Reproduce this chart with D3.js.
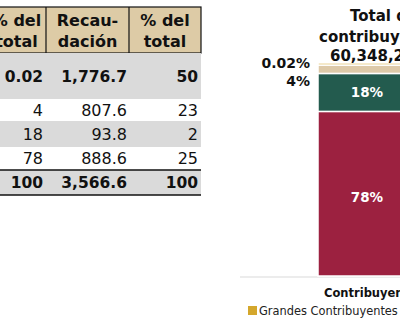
<!DOCTYPE html>
<html><head><meta charset="utf-8">
<script src="https://cdn.jsdelivr.net/npm/d3@7"></script>
<style>body{margin:0;background:#fff}svg{display:block}</style>
</head><body>
<svg id="c" width="400" height="323"></svg>
<script>
// ---- data ----
const tableHeaders = ["% del\ntotal", "Recau-\ndación", "% del\ntotal"];
const rowGroups = ["Grandes Contribuyentes", "Personas morales", "Personas físicas", "Asalariados"];
const pctContribuyentes = [0.02, 4, 18, 78];
const recaudacion = [1776.7, 807.6, 93.8, 888.6];
const pctRecaudacion = [50, 23, 2, 25];
const totals = [100, 3566.6, 100];

const stackCategory = ["Contribuyentes"];
const stackSeries = ["Grandes Contribuyentes", "Personas morales", "Personas físicas", "Asalariados"];
const stackValues = [0.02, 4, 18, 78];
const stackLabels = ["0.02%", "4%", "18%", "78%"];
const chartTitle = ["Total de", "contribuyentes", "60,348,246"];
const legendItems = ["Grandes Contribuyentes"];

// ---- styles ----
const FONT = "DejaVu Sans";
const colors = ["#D4A72C", "#DDC9A8", "#235B4E", "#9C2140"];
const svg = d3.select("#c");

// ---- table ----
const colEdges = [-15, 46, 129, 201];
const headerTop = 7, headerBottom = 53;
const rowEdges = [53, 99, 121, 147, 170, 195];
const fmt1 = d3.format(",.1f");
const fmtPct = v => (v < 1 ? d3.format(".2f")(v) : d3.format("d")(v));

const table = svg.append("g");
table.append("rect").attr("x", colEdges[0]).attr("y", headerTop)
  .attr("width", colEdges[3] - colEdges[0]).attr("height", headerBottom - headerTop)
  .attr("fill", "#DDCBA6").attr("stroke", "#111").attr("stroke-width", 1.2);
[1, 2].forEach(i => table.append("line").attr("x1", colEdges[i]).attr("x2", colEdges[i])
  .attr("y1", headerTop).attr("y2", headerBottom).attr("stroke", "#111").attr("stroke-width", 1.2));

tableHeaders.forEach((h, i) => {
  const cx = (colEdges[i] + colEdges[i + 1]) / 2 + (i === 0 ? 1 : 0);
  const t = table.append("text").attr("x", cx).attr("text-anchor", "middle")
    .attr("font-family", FONT).attr("font-weight", "bold").attr("font-size", 16).attr("fill", "#111");
  h.split("\n").forEach((ln, j) => t.append("tspan").attr("x", cx).attr("y", 26 + j * 20.5).text(ln));
});

const rows = rowGroups.map((g, i) => [pctContribuyentes[i], recaudacion[i], pctRecaudacion[i]]);
rows.push(totals);
const greyRows = [0, 2, 4];
rows.forEach((r, i) => {
  const y0 = rowEdges[i], y1 = rowEdges[i + 1];
  if (greyRows.includes(i)) table.append("rect").attr("x", colEdges[0]).attr("y", y0)
    .attr("width", colEdges[3] - colEdges[0]).attr("height", y1 - y0).attr("fill", "#DADADA");
  const bold = (i === 0 || i === 4);
  const txt = [fmtPct(r[0]), fmt1(r[1]), d3.format("d")(r[2])];
  const rights = [43, 127, 198];
  txt.forEach((s, k) => table.append("text").attr("x", rights[k]).attr("y", (y0 + y1) / 2)
    .attr("dy", "0.36em").attr("text-anchor", "end").attr("font-family", FONT)
    .attr("font-weight", bold ? "bold" : "normal").attr("font-size", bold ? 15.5 : 16)
    .attr("fill", "#111").text(s));
});
[rowEdges[4], rowEdges[5]].forEach(y => table.append("line").attr("x1", colEdges[0]).attr("x2", colEdges[3])
  .attr("y1", y).attr("y2", y).attr("stroke", "#111").attr("stroke-width", 1.3));

// ---- stacked bar ----
const x = d3.scaleBand().domain(stackCategory).range([318, 452]).paddingInner(0).paddingOuter(0);
const y = d3.scaleLinear().domain([0, 100]).range([276, 65]);
const order = d3.range(stackValues.length).reverse(); // bottom: 78%
let cum = 0;
const segs = order.map(i => { const s = { i, y0: cum, y1: cum + stackValues[i] }; cum += stackValues[i]; return s; });

const chart = svg.append("g");
chart.append("line").attr("x1", 240).attr("x2", 400).attr("y1", y(0) + 1).attr("y2", y(0) + 1)
  .attr("stroke", "#D9D9D9").attr("stroke-width", 1);

segs.forEach(s => {
  let top = y(s.y1), bot = y(s.y0);
  if (bot - top < 2) top = bot - 2;
  chart.append("rect").attr("x", x("Contribuyentes")).attr("width", x.bandwidth())
    .attr("y", top).attr("height", bot - top).attr("fill", colors[s.i])
    .attr("stroke", "#fff").attr("stroke-width", 1.5);
});
// inside labels
segs.filter(s => stackValues[s.i] > 10).forEach(s => {
  chart.append("text").attr("x", x("Contribuyentes") + x.bandwidth() / 2 - 18)
    .attr("y", (y(s.y0) + y(s.y1)) / 2 + (s.i === 3 ? 3 : 0)).attr("dy", "0.36em")
    .attr("text-anchor", "middle").attr("font-family", FONT).attr("font-weight", "bold")
    .attr("font-size", 13.5).attr("fill", "#fff").text(stackLabels[s.i]);
});
// outside labels
chart.append("text").attr("x", 310).attr("y", 63).attr("dy", "0.36em").attr("text-anchor", "end")
  .attr("font-family", FONT).attr("font-weight", "bold").attr("font-size", 14).attr("fill", "#111").text(stackLabels[0]);
chart.append("text").attr("x", 310).attr("y", 81).attr("dy", "0.36em").attr("text-anchor", "end")
  .attr("font-family", FONT).attr("font-weight", "bold").attr("font-size", 14).attr("fill", "#111").text(stackLabels[1]);

// title
const titleX = [350, 319, 330], titleY = [16, 37, 56];
chartTitle.forEach((t, i) => chart.append("text").attr("x", titleX[i]).attr("y", titleY[i]).attr("dy", "0.36em")
  .attr("font-family", FONT).attr("font-weight", "bold").attr("font-size", 15).attr("fill", "#111").text(t));

// category label
chart.append("text").attr("x", 324).attr("y", 293).attr("dy", "0.36em")
  .attr("font-family", FONT).attr("font-weight", "bold").attr("font-size", 11.5).attr("fill", "#111").text(stackCategory[0]);

// legend
chart.append("rect").attr("x", 248).attr("y", 306).attr("width", 9).attr("height", 9).attr("fill", colors[0]);
chart.append("text").attr("x", 259).attr("y", 311).attr("dy", "0.36em")
  .attr("font-family", FONT).attr("font-size", 11.4).attr("fill", "#222").text(legendItems[0]);
</script>
</body></html>
